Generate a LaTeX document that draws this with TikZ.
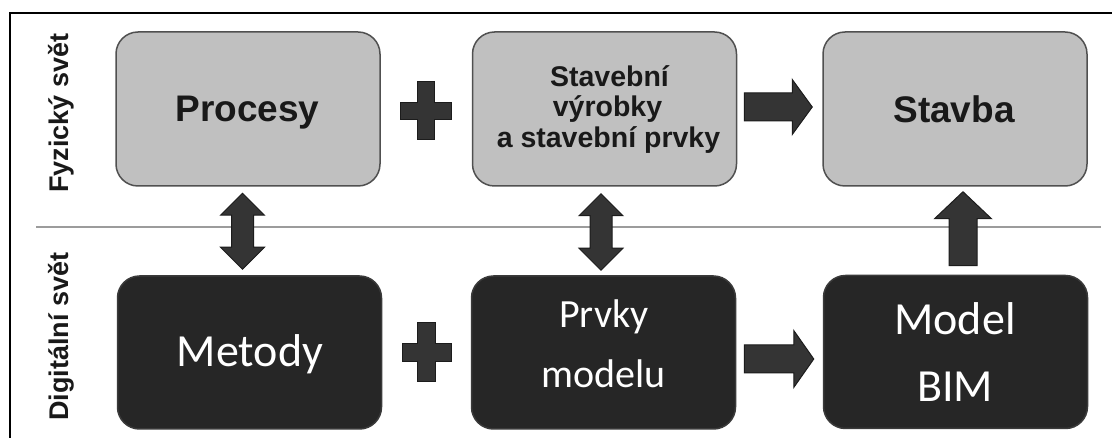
\documentclass[tikz,border=0pt]{standalone}
\usepackage{fontspec}
\setmainfont{Liberation Sans}
\newfontfamily\calfont{Carlito}
\usetikzlibrary{calc}
\definecolor{lightfill}{HTML}{C0C0C0}
\definecolor{boxborder}{HTML}{505050}
\definecolor{darkfill}{HTML}{262626}
\definecolor{darkborder}{HTML}{3A3A3A}
\definecolor{arrowfill}{HTML}{343434}
\definecolor{arrowdraw}{HTML}{1C1C1C}
\definecolor{sepline}{HTML}{9C9C9C}
% horizontal block arrow: start, end, shaft half, head half, head length
\newcommand\harrow[5]{\draw[blockarrow] ($(#1)+(0,#3)$) -- ($(#2)+(-#5,#3)$) -- ($(#2)+(-#5,#4)$) -- (#2) -- ($(#2)+(-#5,-#4)$) -- ($(#2)+(-#5,-#3)$) -- ($(#1)+(0,-#3)$) -- cycle;}
% upward block arrow: start (bottom), tip (top), shaft half, head half, head length
\newcommand\uarrow[5]{\draw[blockarrow] ($(#1)+(#3,0)$) -- ($(#2)+(#3,#5)$) -- ($(#2)+(#4,#5)$) -- (#2) -- ($(#2)+(-#4,#5)$) -- ($(#2)+(-#3,#5)$) -- ($(#1)+(-#3,0)$) -- cycle;}
% double vertical block arrow: top tip, bottom tip, shaft half, head half, head length
\newcommand\dvarrow[5]{\draw[blockarrow] (#1) -- ($(#1)+(#4,#5)$) -- ($(#1)+(#3,#5)$) -- ($(#2)+(#3,-#5)$) -- ($(#2)+(#4,-#5)$) -- (#2) -- ($(#2)+(-#4,-#5)$) -- ($(#2)+(-#3,-#5)$) -- ($(#1)+(-#3,#5)$) -- ($(#1)+(-#4,#5)$) -- cycle;}
% plus sign: centre, half width, half height, half bar thickness
\newcommand\plusmark[4]{\draw[blockarrow] ($(#1)+(-#4,-#3)$) -- ($(#1)+(#4,-#3)$) -- ($(#1)+(#4,-#4)$) -- ($(#1)+(#2,-#4)$) -- ($(#1)+(#2,#4)$) -- ($(#1)+(#4,#4)$) -- ($(#1)+(#4,#3)$) -- ($(#1)+(-#4,#3)$) -- ($(#1)+(-#4,#4)$) -- ($(#1)+(-#2,#4)$) -- ($(#1)+(-#2,-#4)$) -- ($(#1)+(-#4,-#4)$) -- cycle;}
\begin{document}
\begin{tikzpicture}[x=1pt,y=-1pt,
  lightbox/.style={draw=boxborder, line width=1.5pt, fill=lightfill, rounded corners=22pt, minimum width=264pt, minimum height=154pt, inner sep=0pt},
  darkbox/.style={draw=darkborder, line width=1.5pt, fill=darkfill, rounded corners=22pt, minimum width=264pt, minimum height=153pt, inner sep=0pt},
  toptext/.style={font=\fontsize{37}{44}\selectfont\bfseries, anchor=base, inner sep=0pt, text=black!90},
  midtext/.style={font=\fontsize{28.5}{34}\selectfont\bfseries, anchor=base, inner sep=0pt, text=black!90},
  sidetext/.style={font=\fontsize{27}{32}\selectfont\bfseries, anchor=base, inner sep=0pt, rotate=90, text=black!90},
  darktext/.style={font=\calfont\fontsize{46}{54}\selectfont, anchor=base, inner sep=0pt, text=white},
  prvtext/.style={font=\calfont\fontsize{40}{48}\selectfont, anchor=base, inner sep=0pt, text=white},
  blockarrow/.style={fill=arrowfill, draw=arrowdraw, line width=1pt, line join=miter},
  sepstyle/.style={draw=sepline, line width=2pt},
  framestyle/.style={draw=black, line width=1.3pt}]
\useasboundingbox (0,0) rectangle (1112,438);
\fill[white] (0,0) rectangle (1112,438);
% frame and separator
\draw[framestyle] (10,438) -- (10,13) -- (1112,13);
\draw[sepstyle] (36,227) -- (1101,227);
% boxes
\node[lightbox] (proc) at (248,109) {};
\node[lightbox] (stav) at (604.5,109) {};
\node[lightbox] (stb) at (955,109) {};
\node[darkbox] (met) at (249.5,352.5) {};
\node[darkbox] (prv) at (603.5,352.5) {};
\node[darkbox] (bim) at (955.5,352) {};
% texts
\node[toptext] (tproc) at ($(proc.center)+(-0.5,12.7)$) {Procesy};
\node[toptext] (tstb) at ($(stb.center)+(-1,13.5)$) {Stavba};
\node[midtext] (tstav1) at ($(stav.center)+(5,-22.7)$) {Stavební};
\node[midtext] (tstav2) at ($(stav.center)+(3,7.3)$) {výrobky};
\node[midtext] (tstav3) at ($(stav.center)+(4,39)$) {a stavební prvky};
\node[darktext] (tmet) at ($(met.center)+(0.5,14.2)$) {Metody};
\node[prvtext] (tprv1) at ($(prv.center)+(0.3,-24.5)$) {Prvky};
\node[prvtext] (tprv2) at ($(prv.center)+(0,34.8)$) {modelu};
\node[darktext] (tbim1) at ($(bim.center)+(-0.5,-17)$) {Model};
\node[darktext] (tbim2) at ($(bim.center)+(-0.5,49.7)$) {BIM};
\node[sidetext] (fyz) at (68,113) {Fyzický svět};
\node[sidetext] (dig) at (68,336.5) {Digitální svět};
% connectors
\coordinate (a1s) at ($(stav.east)+(7,-2)$);
\coordinate (a1e) at ($(stb.west)+(-10,-2)$);
\harrow{a1s}{a1e}{14}{27.5}{20}
\coordinate (a2s) at ($(prv.east)+(8,6.5)$);
\coordinate (a2e) at ($(bim.west)+(-9,7)$);
\harrow{a2s}{a2e}{14}{28.5}{20}
\coordinate (a3s) at ($(bim.north)+(7.5,-9)$);
\coordinate (a3e) at ($(stb.south)+(8,5)$);
\uarrow{a3s}{a3e}{14}{28.5}{27}
\coordinate (d1t) at ($(proc.south)+(-5.5,6.5)$);
\coordinate (d1b) at ($(met.north)+(-7,-6)$);
\dvarrow{d1t}{d1b}{11}{22}{22}
\coordinate (d2t) at ($(stav.south)+(-3.5,7)$);
\coordinate (d2b) at ($(prv.north)+(-2.5,-5)$);
\dvarrow{d2t}{d2b}{11}{22}{22}
% plus signs
\coordinate (p1) at ($(proc.east)!0.5!(stav.west)+(0,2)$);
\plusmark{p1}{25.5}{29}{8.5}
\coordinate (p2) at ($(met.east)!0.5!(prv.west)$);
\plusmark{p2}{24.5}{29.5}{9}
\end{tikzpicture}
\end{document}
